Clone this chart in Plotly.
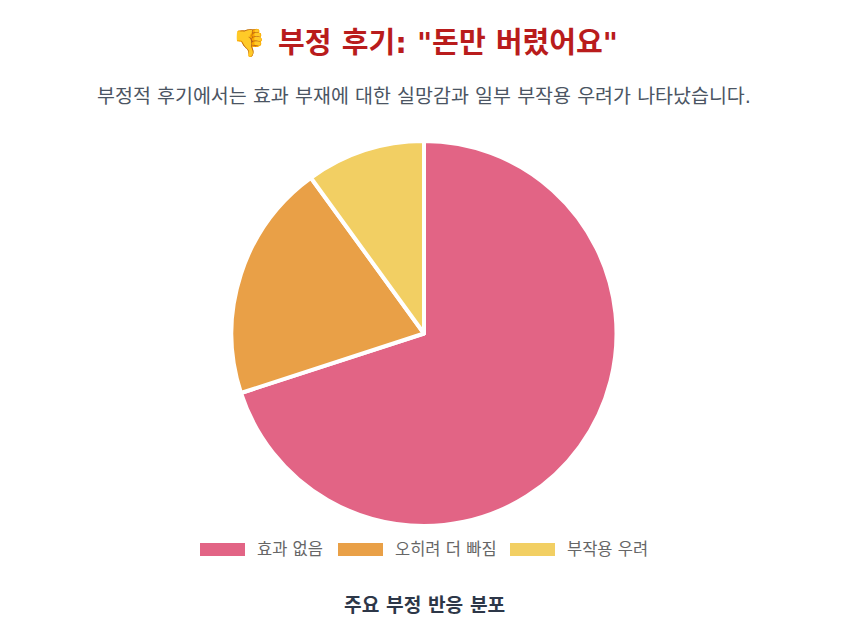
import plotly.graph_objects as go

W, H = 848, 640
labels = ["효과 없음", "오히려 더 빠짐", "부작용 우려"]
values = [70, 20, 10]
colors = ["#E26485", "#E9A047", "#F2CF63"]
title = '부정 후기: "돈만 버렸어요"'
subtitle = "부정적 후기에서는 효과 부재에 대한 실망감과 일부 부작용 우려가 나타났습니다."
caption = "주요 부정 반응 분포"
FONT = "'DejaVu Sans', 'Noto Sans CJK KR'"

def px(x): return x / W
def py(y): return 1 - y / H

fig = go.Figure(go.Pie(
    labels=labels, values=values, sort=False, direction="clockwise", rotation=0,
    textinfo="none", hoverinfo="label+value",
    marker=dict(colors=colors, line=dict(color="#FFFFFF", width=4)),
    domain=dict(x=[px(231.5), px(616.5)], y=[py(526), py(141)]),
    showlegend=False,
))

annotations = [
    dict(text="👎", x=px(249), y=py(42), font=dict(size=27, color="#B91C1C")),
    dict(text=f"<b>{title}</b>", x=px(448), y=py(43), font=dict(size=29.1, color="#B91C1C")),
    dict(text=subtitle, x=px(424), y=py(96), font=dict(size=19.5, color="#4B5563")),
    dict(text=f"<b>{caption}</b>", x=px(424), y=py(605), font=dict(size=19.2, color="#2D3748")),
]
swatch_left = [200, 338, 510]
text_left = [254.5, 392.5, 564.5]
shapes = []
for c, l, sx, tx in zip(colors, labels, swatch_left, text_left):
    shapes.append(dict(type="rect", xref="paper", yref="paper", x0=px(sx), x1=px(sx + 45),
                       y0=py(556), y1=py(543), fillcolor=c, line=dict(width=0)))
    annotations.append(dict(text=l, x=px(tx), y=py(549), xanchor="left",
                            font=dict(size=16.5, color="#666666")))
for a in annotations:
    a.update(xref="paper", yref="paper", showarrow=False)
    a.setdefault("xanchor", "center")
    a["yanchor"] = "middle"

fig.update_layout(width=W, height=H, margin=dict(l=0, r=0, t=0, b=0),
                  paper_bgcolor="#FFFFFF", font=dict(family=FONT),
                  annotations=annotations, shapes=shapes)
fig.write_html("out.html", post_script="document.body.style.margin='0';",
               config=dict(displayModeBar=False))
